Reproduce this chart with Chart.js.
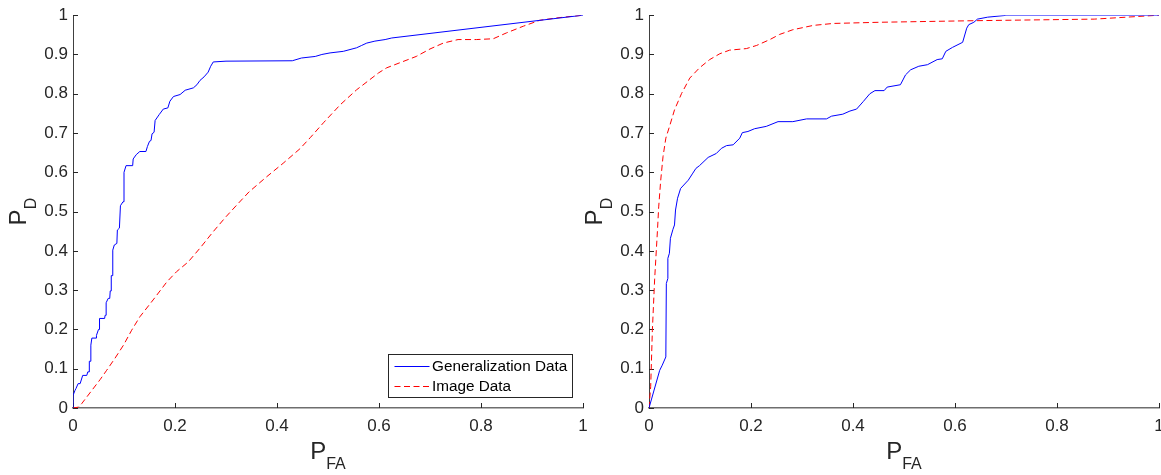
<!DOCTYPE html>
<html><head><meta charset="utf-8">
<script src="https://cdn.jsdelivr.net/npm/chart.js@4.4.0/dist/chart.umd.min.js"></script>
<style>
html,body{margin:0;padding:0;background:#fff;overflow:hidden}
#wrap{position:relative;width:1161px;height:475px;background:#fff;overflow:hidden}
canvas{position:absolute;top:0}
#c1{left:0}
#c2{left:580px}
</style></head><body>
<div id="wrap"><canvas id="c1" width="600" height="475"></canvas><canvas id="c2" width="600" height="475"></canvas></div>
<script>
// ---------- DATA ----------
const seriesLabels = ['Generalization Data', 'Image Data'];
const xTitle = ['P', 'FA'];
const yTitle = ['P', 'D'];

// Left panel: Generalization Data
const leftGenFA = [0,0,0.004,0.006,0.01,0.014,0.019,0.027,0.029,0.032,0.032,0.035,0.035,0.037,0.046,0.046,0.05,0.052,0.052,0.062,0.063,0.065,0.065,0.069,0.072,0.073,0.075,0.075,0.078,0.078,0.081,0.086,0.087,0.091,0.093,0.098,0.1,0.1,0.104,0.117,0.118,0.124,0.131,0.143,0.146,0.15,0.153,0.155,0.159,0.161,0.169,0.177,0.186,0.19,0.197,0.21,0.22,0.236,0.243,0.249,0.257,0.265,0.27,0.275,0.3,0.43,0.448,0.475,0.488,0.504,0.53,0.556,0.566,0.576,0.592,0.612,0.625,1];
const leftGenPD = [0,0.032,0.045,0.05,0.062,0.062,0.083,0.083,0.092,0.092,0.119,0.119,0.16,0.178,0.178,0.185,0.2,0.2,0.228,0.228,0.236,0.236,0.268,0.279,0.279,0.298,0.298,0.337,0.337,0.402,0.415,0.419,0.453,0.458,0.515,0.525,0.525,0.6,0.617,0.617,0.634,0.645,0.653,0.653,0.666,0.679,0.681,0.698,0.702,0.732,0.747,0.761,0.764,0.781,0.793,0.798,0.809,0.815,0.823,0.834,0.843,0.855,0.87,0.881,0.883,0.884,0.891,0.895,0.9,0.904,0.908,0.917,0.923,0.929,0.934,0.938,0.942,1];
// Left panel: Image Data
const leftImgFA = [0,0.01,0.017,0.037,0.053,0.066,0.082,0.099,0.115,0.131,0.157,0.184,0.203,0.226,0.249,0.275,0.3,0.322,0.345,0.38,0.412,0.445,0.465,0.491,0.524,0.556,0.582,0.599,0.615,0.641,0.673,0.7,0.726,0.755,0.791,0.824,0.85,0.883,0.915,0.948,1];
const leftImgPD = [0,0.002,0.011,0.045,0.072,0.096,0.126,0.16,0.198,0.232,0.275,0.321,0.347,0.372,0.407,0.449,0.487,0.518,0.55,0.589,0.623,0.66,0.688,0.726,0.772,0.81,0.836,0.853,0.866,0.879,0.895,0.914,0.929,0.938,0.938,0.94,0.955,0.972,0.987,0.993,1];

// Right panel: Generalization Data
const rightGenFA = [0,0.021,0.026,0.033,0.034,0.037,0.037,0.04,0.042,0.047,0.05,0.052,0.056,0.062,0.077,0.086,0.092,0.099,0.116,0.132,0.142,0.152,0.165,0.178,0.183,0.194,0.207,0.23,0.253,0.282,0.309,0.348,0.358,0.38,0.394,0.407,0.42,0.433,0.443,0.461,0.467,0.493,0.503,0.513,0.529,0.546,0.565,0.575,0.582,0.595,0.615,0.623,0.627,0.637,0.644,0.664,0.696,0.7,1];
const rightGenPD = [0,0.096,0.109,0.13,0.317,0.33,0.381,0.394,0.432,0.455,0.466,0.504,0.534,0.559,0.58,0.598,0.61,0.617,0.638,0.648,0.661,0.668,0.67,0.687,0.701,0.704,0.711,0.717,0.729,0.729,0.736,0.736,0.743,0.748,0.756,0.761,0.78,0.8,0.808,0.808,0.817,0.823,0.848,0.861,0.87,0.874,0.887,0.889,0.908,0.918,0.931,0.967,0.976,0.982,0.99,0.995,0.999,1,1];
// Right panel: Image Data
const rightImgFA = [0,0.0033,0.0066,0.011,0.0165,0.019,0.023,0.0275,0.033,0.041,0.05,0.064,0.08,0.099,0.119,0.139,0.158,0.191,0.211,0.237,0.256,0.282,0.322,0.361,0.452,0.637,0.873,1];
const rightImgPD = [0,0.054,0.198,0.326,0.45,0.512,0.58,0.64,0.687,0.72,0.759,0.801,0.84,0.866,0.887,0.902,0.911,0.915,0.923,0.938,0.951,0.963,0.974,0.979,0.982,0.986,0.99,1];

// ---------- STYLE ----------
const FONT = '"Liberation Sans", Arial, Helvetica, sans-serif';
const TXT = '#262626';
const BLUE = '#0000ff';
const RED = '#ff0000';

function pts(xs, ys) { return xs.map((x, i) => ({ x: x, y: ys[i] })); }
function fmt(v) { return String(Number(Number(v).toFixed(1))); }

const inwardTicks = {
  id: 'inwardTicks',
  beforeDatasetsDraw(chart) {
    const ctx = chart.ctx, a = chart.chartArea;
    const xs = chart.scales.x, ys = chart.scales.y;
    ctx.save();
    ctx.strokeStyle = TXT; ctx.lineWidth = 1;
    ctx.beginPath();
    xs.ticks.forEach(t => {
      const p = Math.round(xs.getPixelForValue(t.value)) + 0.5;
      ctx.moveTo(p, a.bottom); ctx.lineTo(p, a.bottom - 5);
    });
    ys.ticks.forEach(t => {
      const p = Math.round(ys.getPixelForValue(t.value)) + 0.5;
      ctx.moveTo(a.left, p); ctx.lineTo(a.left + 5, p);
    });
    ctx.stroke();
    ctx.restore();
  }
};

const axisTitles = {
  id: 'axisTitles',
  afterDraw(chart) {
    const ctx = chart.ctx, a = chart.chartArea;
    const big = '24px ' + FONT, small = '16px ' + FONT;
    ctx.save();
    ctx.fillStyle = TXT; ctx.textAlign = 'left'; ctx.textBaseline = 'alphabetic';
    // x title
    ctx.font = big; let wP = ctx.measureText(xTitle[0]).width;
    ctx.font = small; let wS = ctx.measureText(xTitle[1]).width;
    let cx = (a.left + a.right) / 2, x0 = cx - (wP + wS) / 2, by = a.bottom + 50.5;
    ctx.font = big; ctx.fillText(xTitle[0], x0, by);
    ctx.font = small; ctx.fillText(xTitle[1], x0 + wP, by + 10);
    // y title (rotated)
    ctx.font = big; wP = ctx.measureText(yTitle[0]).width;
    ctx.font = small; wS = ctx.measureText(yTitle[1]).width;
    const cy = (a.top + a.bottom) / 2;
    ctx.translate(a.left - 47, cy);
    ctx.rotate(-Math.PI / 2);
    const t0 = -(wP + wS) / 2;
    ctx.font = big; ctx.fillText(yTitle[0], t0, 0);
    ctx.font = small; ctx.fillText(yTitle[1], t0 + wP, 10);
    ctx.restore();
  }
};

const boxLegend = {
  id: 'boxLegend',
  afterDraw(chart, args, opts) {
    if (!opts || !opts.show) return;
    const ctx = chart.ctx, a = chart.chartArea;
    ctx.save();
    ctx.font = '15.3px ' + FONT;
    const ds = chart.data.datasets;
    const tw = Math.max(...ds.map(d => ctx.measureText(d.label).width));
    const lineLen = 35, padL = 6.5, gap = 2.5, padR = 5, rowH = 20, padT = 11.7;
    const w = Math.round(padL + lineLen + gap + tw + padR), h = 43;
    const right = Math.round(a.right - 11), bottom = Math.round(a.bottom - 11);
    const left = right - w, top = bottom - h;
    ctx.fillStyle = '#fff'; ctx.fillRect(left, top, w, h);
    ctx.strokeStyle = TXT; ctx.lineWidth = 1;
    ctx.strokeRect(left + 0.5, top + 0.5, w, h);
    ds.forEach((d, i) => {
      const y = Math.round(top + padT + i * rowH) + 0.5;
      ctx.strokeStyle = d.borderColor; ctx.lineWidth = d.borderWidth;
      ctx.setLineDash(d.borderDash || []);
      ctx.beginPath(); ctx.moveTo(left + padL, y); ctx.lineTo(left + padL + lineLen, y); ctx.stroke();
      ctx.setLineDash([]);
      ctx.fillStyle = '#000'; ctx.textBaseline = 'middle'; ctx.textAlign = 'left';
      ctx.fillText(d.label, left + padL + lineLen + gap, y + 0.5);
    });
    ctx.restore();
  }
};

function makeChart(id, gen, img, yAxisWidth, rightPad, showLegend) {
  return new Chart(document.getElementById(id), {
    type: 'line',
    data: {
      datasets: [
        { label: seriesLabels[0], data: gen, borderColor: BLUE, borderWidth: 1, pointRadius: 0, tension: 0, fill: false },
        { label: seriesLabels[1], data: img, borderColor: RED, borderWidth: 1, borderDash: [6, 3.5], pointRadius: 0, tension: 0, fill: false }
      ]
    },
    options: {
      responsive: false, animation: false, events: [],
      layout: { autoPadding: false, padding: { left: 0, right: rightPad, top: 15, bottom: 0 } },
      plugins: { legend: { display: false }, tooltip: { enabled: false }, boxLegend: { show: showLegend } },
      scales: {
        x: {
          type: 'linear', min: 0, max: 1,
          afterFit(s) { s.height = 67; },
          grid: { display: false, drawTicks: false },
          border: { display: true, color: '#6e6e6e', width: 1.6 },
          ticks: { stepSize: 0.2, padding: 8, maxRotation: 0, color: TXT, font: { family: FONT, size: 17 }, callback: fmt }
        },
        y: {
          type: 'linear', min: 0, max: 1,
          afterFit(s) { s.width = yAxisWidth; },
          grid: { display: false, drawTicks: false },
          border: { display: true, color: '#404040', width: 1 },
          ticks: { stepSize: 0.1, padding: 5, color: TXT, font: { family: FONT, size: 17 }, callback: fmt }
        }
      }
    },
    plugins: [inwardTicks, axisTitles, boxLegend]
  });
}

makeChart('c1', pts(leftGenFA, leftGenPD), pts(leftImgFA, leftImgPD), 73, 17, true);
makeChart('c2', pts(rightGenFA, rightGenPD), pts(rightImgFA, rightImgPD), 69, 21, false);
</script>
</body></html>
